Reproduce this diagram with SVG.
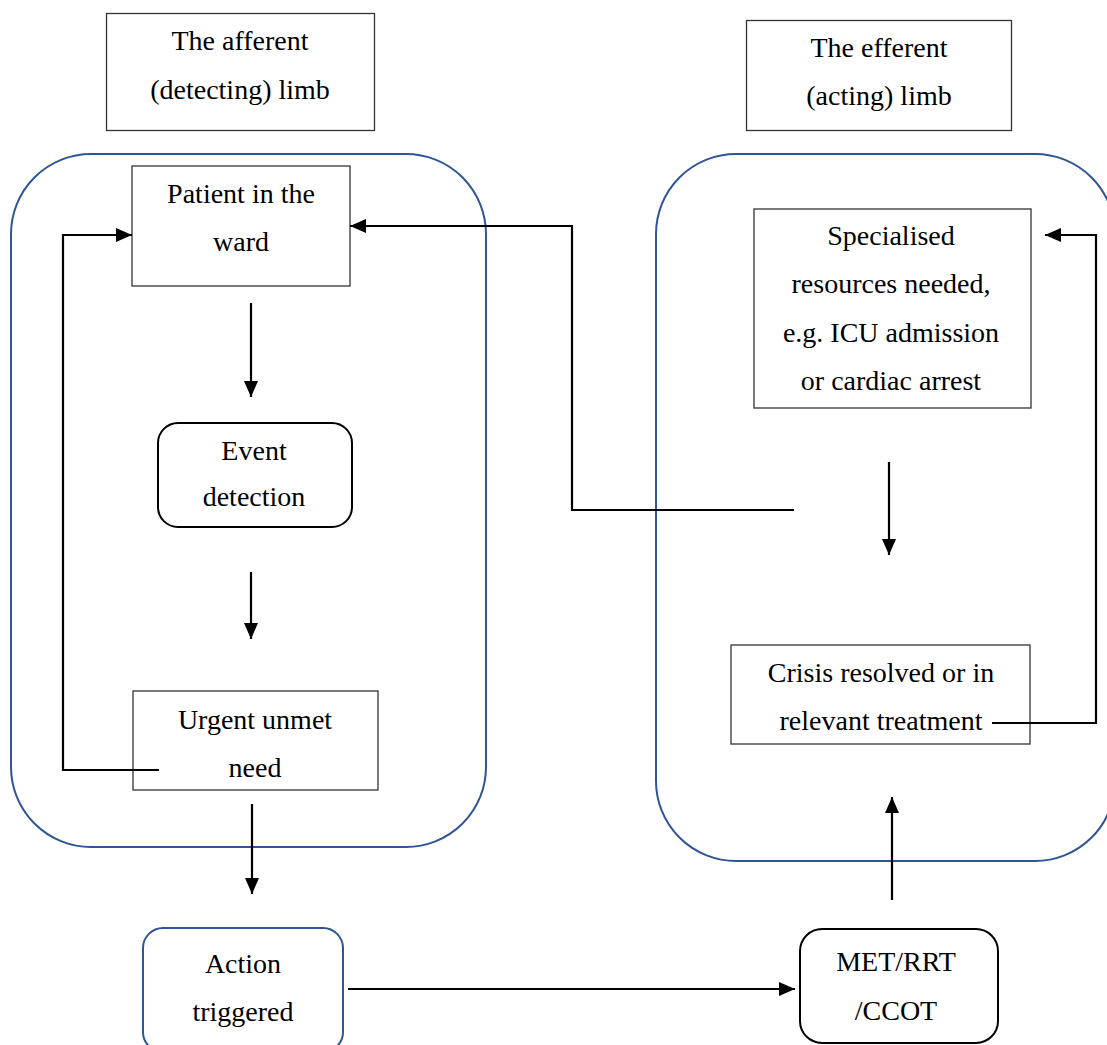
<svg xmlns="http://www.w3.org/2000/svg" width="1107" height="1045" viewBox="0 0 1107 1045">
  <style>
    .box { fill: #ffffff; stroke: #333333; stroke-width: 1.3; }
    .rbox { fill: #ffffff; stroke: #000000; stroke-width: 2; }
    .bbox { fill: #ffffff; stroke: #2f5597; stroke-width: 2; }
    .limb { fill: none; stroke: #2f5597; stroke-width: 2; }
    text { font-family: 'Liberation Serif', 'DejaVu Serif', serif; font-size: 28px; fill: #000000; text-anchor: middle; }
    .conn { fill: none; stroke: #000000; stroke-width: 2.2; }
  </style>
  <defs>
    <marker id="arrow" markerUnits="userSpaceOnUse" markerWidth="17" markerHeight="15" refX="16" refY="7" orient="auto">
      <path d="M0,0 L16,7 L0,14 z" fill="#000000"/>
    </marker>
  </defs>
  <rect width="1107" height="1045" fill="#ffffff"/>

  <!-- limb containers -->
  <g id="afferent-limb">
    <rect class="limb" x="11" y="154" width="475" height="693" rx="80" ry="80"/>
  </g>
  <g id="efferent-limb">
    <rect class="limb" x="656" y="154" width="459" height="707" rx="80" ry="80"/>
  </g>

  <g font-family="Liberation Serif, DejaVu Serif, serif">
  <!-- titles -->
  <g id="afferent-title">
    <rect class="box" x="106.5" y="13.5" width="268" height="117"/>
    <text x="240" y="50">The afferent</text>
    <text x="240" y="99">(detecting) limb</text>
  </g>
  <g id="efferent-title">
    <rect class="box" x="746.5" y="20.5" width="265" height="110"/>
    <text x="879" y="57">The efferent</text>
    <text x="879" y="105">(acting) limb</text>
  </g>

  <!-- afferent nodes -->
  <g id="patient">
    <rect class="box" x="132" y="166" width="218" height="120"/>
    <text x="241" y="203">Patient in the</text>
    <text x="241" y="251">ward</text>
  </g>
  <g id="event-detection">
    <rect class="rbox" x="158" y="423" width="194" height="104" rx="20" ry="20"/>
    <text x="254" y="460">Event</text>
    <text x="254" y="506">detection</text>
  </g>
  <g id="urgent-need">
    <rect class="box" x="133" y="691" width="245" height="99"/>
    <text x="255" y="729">Urgent unmet</text>
    <text x="255" y="777">need</text>
  </g>
  <g id="action-triggered">
    <rect class="bbox" x="143" y="928" width="200" height="124" rx="20" ry="20"/>
    <text x="243" y="973">Action</text>
    <text x="243" y="1021">triggered</text>
  </g>

  <!-- efferent nodes -->
  <g id="specialised-resources">
    <rect class="box" x="754" y="209" width="277" height="199"/>
    <text x="891" y="245">Specialised</text>
    <text x="891" y="293">resources needed,</text>
    <text x="891" y="342">e.g. ICU admission</text>
    <text x="891" y="390">or cardiac arrest</text>
  </g>
  <g id="crisis-resolved">
    <rect class="box" x="731" y="645" width="299" height="99"/>
    <text x="881" y="682">Crisis resolved or in</text>
    <text x="881" y="730">relevant treatment</text>
  </g>
  <g id="met-rrt-ccot">
    <rect class="rbox" x="800" y="929" width="198" height="114" rx="22" ry="22"/>
    <text x="896" y="971">MET/RRT</text>
    <text x="896" y="1020">/CCOT</text>
  </g>
  </g>

  <!-- connectors -->
  <g id="connectors">
    <path class="conn" d="M159,770 H63 V235 H132" marker-end="url(#arrow)"/>
    <path class="conn" d="M251,303 V397" marker-end="url(#arrow)"/>
    <path class="conn" d="M251,572 V639" marker-end="url(#arrow)"/>
    <path class="conn" d="M252,804 V894" marker-end="url(#arrow)"/>
    <path class="conn" d="M348,989 H795" marker-end="url(#arrow)"/>
    <path class="conn" d="M892,900 V797" marker-end="url(#arrow)"/>
    <path class="conn" d="M992,723 H1096 V235 H1045" marker-end="url(#arrow)"/>
    <path class="conn" d="M889,462 V555" marker-end="url(#arrow)"/>
    <path class="conn" d="M794,510 H572 V226 H350" marker-end="url(#arrow)"/>
  </g>
</svg>
